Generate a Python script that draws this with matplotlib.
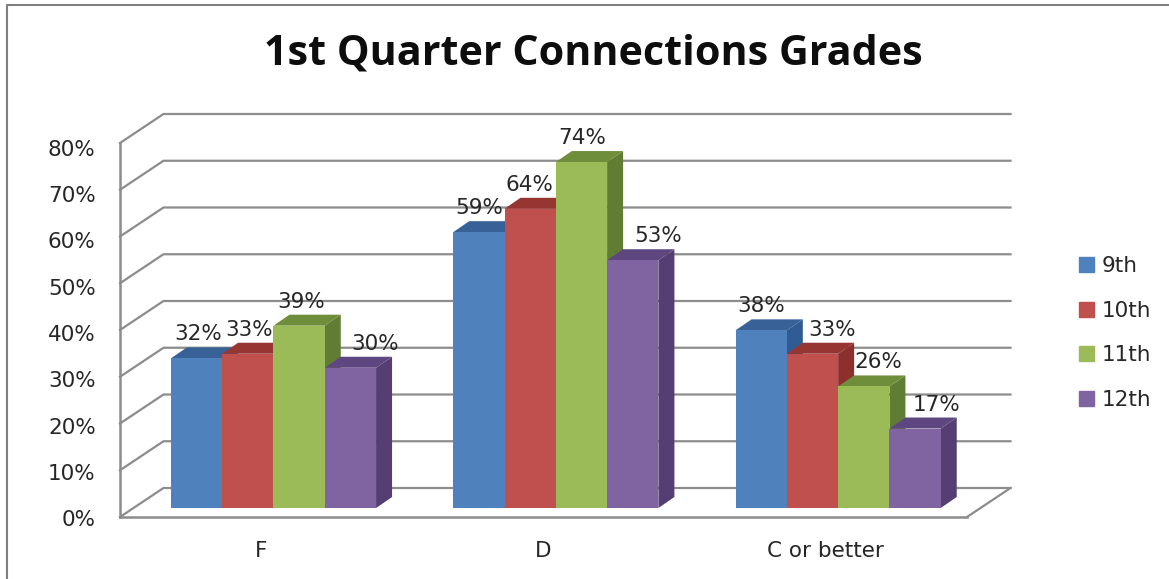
import matplotlib
matplotlib.use("Agg")
import matplotlib.pyplot as plt
from matplotlib.lines import Line2D
from matplotlib.patches import Polygon, Patch
from matplotlib.transforms import ScaledTranslation

categories = ["F", "D", "C or better"]
grades = ["9th", "10th", "11th", "12th"]
grade_9 = [32, 59, 38]
grade_10 = [33, 64, 33]
grade_11 = [39, 74, 26]
grade_12 = [30, 53, 17]
yticks = [0, 10, 20, 30, 40, 50, 60, 70, 80]

front = ["#4F81BD", "#C0504D", "#9BBB59", "#8064A2"]
top = ["#386198", "#973533", "#6E8E3C", "#5E4780"]
side = ["#2F5C94", "#8C2F2D", "#607D33", "#543E72"]
grid = "#8C8C8C"
txt = "#262626"
fs = 15.5

W, H = 1169, 579
fig = plt.figure(figsize=(W / 100, H / 100), dpi=100)
ax = fig.add_axes([120 / W, 1 - 517 / H, 847 / W, 374 / H])
ax.set_xlim(-0.5, 2.5)
ax.set_ylim(0, 80)

# pixels to data units
px = 3 / 847
py = 80 / 374
wall_dx, wall_dy = 43.5 * px, 29 * py
bar_w = 51.3 * px
bar_dx, bar_dy = 16 * px, 11 * py
shift_x, shift_y = 12.3 * px, 9 * py

# walls and floor
for t in yticks:
    ax.plot([-0.5, -0.5 + wall_dx, 2.5 + wall_dx], [t, t + wall_dy, t + wall_dy],
            color=grid, lw=1.6, clip_on=False, zorder=1)
ax.plot([2.5, 2.5 + wall_dx], [0, wall_dy], color=grid, lw=1.6, clip_on=False, zorder=1)

# label x nudges in pixels, the ones that sit off their bar
nudge = [[2, 1, 2, 25], [0, -1, 1, 25], [0, 20, 15, 21]]

series = [grade_9, grade_10, grade_11, grade_12]
z = 3
for c in range(len(categories)):
    for s in range(4):
        v = series[s][c]
        x0 = c - 2 * bar_w + shift_x + s * bar_w
        y0 = shift_y
        y1 = y0 + v
        ax.bar(x0, v, bar_w, bottom=y0, align="edge", color=front[s], zorder=z + 2, clip_on=False)
        ax.add_patch(Polygon([(x0, y1), (x0 + bar_w, y1), (x0 + bar_w + bar_dx, y1 + bar_dy), (x0 + bar_dx, y1 + bar_dy)],
                             fc=top[s], ec="none", zorder=z + 1, clip_on=False))
        ax.add_patch(Polygon([(x0 + bar_w, y0), (x0 + bar_w + bar_dx, y0 + bar_dy), (x0 + bar_w + bar_dx, y1 + bar_dy), (x0 + bar_w, y1)],
                             fc=side[s], ec="none", zorder=z, clip_on=False))
        ax.annotate(str(v) + "%", (x0 + bar_w / 2, y1), xytext=(nudge[c][s], 24), textcoords="offset pixels",
                    ha="center", va="center", fontsize=fs, color=txt, zorder=50)
        z += 3

for name in ["top", "right"]:
    ax.spines[name].set_visible(False)
for name in ["left", "bottom"]:
    ax.spines[name].set_color(grid)
    ax.spines[name].set_linewidth(1.8)
ax.patch.set_alpha(0)

ax.set_yticks(yticks)
ax.set_yticklabels([str(t) + "%" for t in yticks], fontsize=fs, color=txt)
ax.set_xticks(range(3))
ax.set_xticklabels(categories, fontsize=fs, color=txt)
ax.tick_params(axis="both", length=0)
ax.tick_params(axis="y", pad=17.5)
ax.tick_params(axis="x", pad=17)

# the y labels run a little tighter than the axis
for t, lab in zip(yticks, ax.get_yticklabels()):
    lab.set_transform(lab.get_transform() + ScaledTranslation(0, -(1 + t / 80 * 4) / 100, fig.dpi_scale_trans))

fig.text(593 / W, 1 - 54 / H, "1st Quarter Connections Grades", ha="center", va="center",
         fontsize=29.7, fontweight="bold", family="Open Sans", color="#0d0d0d")

handles = [Patch(color=front[i]) for i in range(4)]
fig.legend(handles, grades, loc="center left", bbox_to_anchor=(1060 / W, 1 - 333 / H), frameon=False,
           fontsize=fs, handlelength=0.7, handleheight=0.7, handletextpad=0.35, labelspacing=1.14,
           labelcolor=txt)

# outer frame of the chart, only top and left show
fig.add_artist(Line2D([7 / W, 7 / W, 1], [0, 1 - 5 / H, 1 - 5 / H], color="#7F7F7F", lw=1.5))

fig.savefig("out.png", dpi=100)
